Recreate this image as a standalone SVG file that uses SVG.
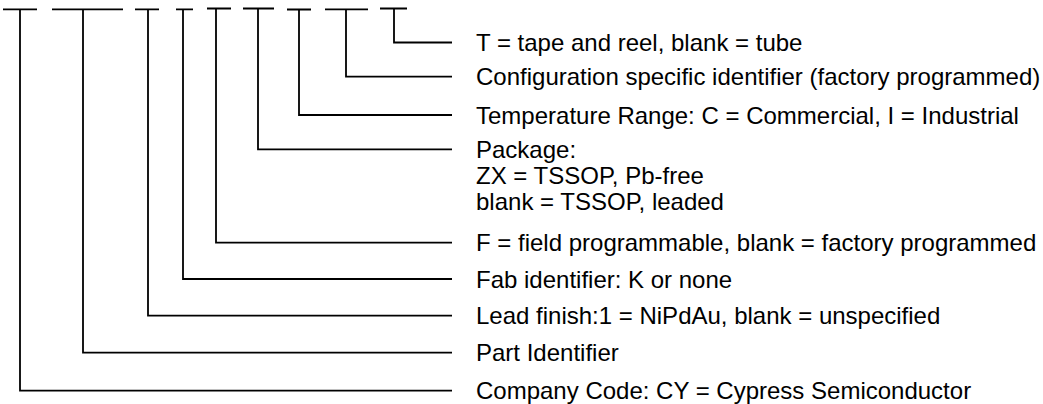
<svg xmlns="http://www.w3.org/2000/svg" width="1043" height="404" viewBox="0 0 1043 404">
<style>
.c{fill:none;stroke:#000;stroke-width:1.8;stroke-linecap:butt;stroke-linejoin:miter}
.t{font-family:"Liberation Sans",Arial,sans-serif;font-size:24px;fill:#000}
</style>
<rect width="1043" height="404" fill="#fff"/>
<g id="connectors">
<path class="c" d="M3,9.3H37M20,9.3V390.7H452"/>
<path class="c" d="M52,9.3H123M83,9.3V352.7H452"/>
<path class="c" d="M135,9.3H159M148,9.3V315.7H452"/>
<path class="c" d="M176,9.3H193M183,9.3V279H452"/>
<path class="c" d="M207,8.5H231M216,8.5V242.7H452"/>
<path class="c" d="M243,8.5H274M258,8.5V149.3H452"/>
<path class="c" d="M287,9.5H311M299,9.5V115H452"/>
<path class="c" d="M325,9.3H368M346,9.3V76.7H452"/>
<path class="c" d="M380,8.5H407M394,8.5V42.5H452"/>
</g>
<g id="n-tape"><text class="t" x="476" y="51">T = tape and reel, blank = tube</text></g>
<g id="n-config"><text class="t" x="476" y="85">Configuration specific identifier (factory programmed)</text></g>
<g id="n-temp"><text class="t" x="476" y="123.5">Temperature Range: C = Commercial, I = Industrial</text></g>
<g id="n-package"><text class="t" x="476" y="157.5">Package:<tspan x="476" dy="26">ZX = TSSOP, Pb-free</tspan><tspan x="476" dy="26">blank = TSSOP, leaded</tspan></text></g>
<g id="n-field"><text class="t" x="476" y="251">F = field programmable, blank = factory programmed</text></g>
<g id="n-fab"><text class="t" x="476" y="287.5">Fab identifier: K or none</text></g>
<g id="n-lead"><text class="t" x="476" y="324">Lead finish:1 = NiPdAu, blank = unspecified</text></g>
<g id="n-part"><text class="t" x="476" y="361">Part Identifier</text></g>
<g id="n-company"><text class="t" x="476" y="399">Company Code: CY = Cypress Semiconductor</text></g>
</svg>
